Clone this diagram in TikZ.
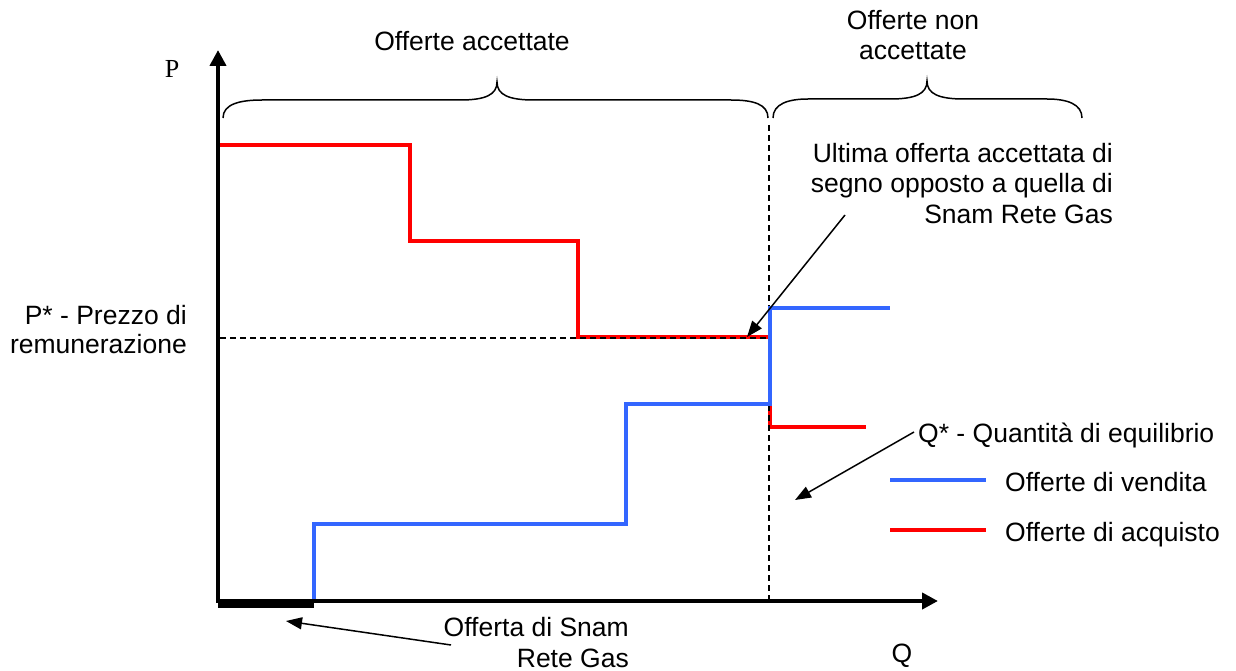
\documentclass[tikz,border=0pt]{standalone}
\usepackage{fontspec}
\setmainfont{Liberation Sans}
\newfontfamily\serifP{Liberation Serif}
\usetikzlibrary{arrows.meta}
\definecolor{sellblue}{RGB}{51,102,255}
\definecolor{buyred}{RGB}{255,0,0}
\begin{document}
\begin{tikzpicture}[x=1pt,y=-1pt,
  lbl/.style={inner sep=0pt, font=\fontsize{26.5}{30.5}\selectfont},
  axisline/.style={line width=4.5pt, line join=miter, {Triangle[length=16pt,width=16pt]}-{Triangle[length=16pt,width=16pt]}},
  sell/.style={sellblue, line width=4pt},
  buy/.style={buyred, line width=3.5pt},
  guide/.style={line width=1.5pt, dash pattern=on 6pt off 4pt},
  callout/.style={line width=1.5pt, -{Triangle[length=16pt,width=12pt]}},
  bracecurve/.style={line width=1.5pt}]
\useasboundingbox (0,0) rectangle (1236,671);

% curves
\draw[buy] (218,145) -- (410,145) -- (410,241) -- (578,241) -- (578,337) -- (770,337) -- (770,427) -- (866,427);
\draw[guide] (220,338) -- (768,338);
\draw[guide] (769,125) -- (769,601);
\draw[sell] (314,601) -- (314,524) -- (626,524) -- (626,404) -- (770,404) -- (770,308) -- (890,308);

% axes
\coordinate (Ytip) at (218,50);
\coordinate (O) at (218,601);
\coordinate (Xtip) at (938,601);
\draw[axisline] (Ytip) -- (O) -- (Xtip);
\draw[line width=8pt] (218,604) -- (314,604);

% braces
\draw[bracecurve] (223,118) .. controls (223,104) and (240,100) .. (262,100) -- (460,100)
  .. controls (485,100) and (497,95) .. (497,82)
  .. controls (497,95) and (509,100) .. (534,100) -- (731,100)
  .. controls (753,100) and (768,104) .. (768,118);
\draw[bracecurve] (773,118) .. controls (773,104) and (788,99) .. (808,99) -- (890,99)
  .. controls (915,99) and (927,94) .. (927,81)
  .. controls (927,94) and (939,99) .. (964,99) -- (1047,99)
  .. controls (1067,99) and (1082,104) .. (1082,118);

% legend
\draw[sell] (890,480) -- (986,480);
\draw[buy] (890,530) -- (986,530);

% labels (base anchor of a multi-line node = baseline of its last line)
\node[inner sep=0pt, anchor=base, font=\serifP\fontsize{26}{30}\selectfont] (tP) at (172,78) {P};
\node[lbl, anchor=base] (tQ) at (902,662) {Q};
\node[lbl, anchor=base] (tAcc) at (472,51) {Offerte accettate};
\node[lbl, anchor=base, align=center] (tNon) at (913,60) {Offerte non\\accettate};
\node[lbl, anchor=base east, align=right] (tUlt) at (1113,223) {Ultima offerta accettata di\\segno opposto a quella di\\Snam Rete Gas};
\node[lbl, anchor=base east, align=right] (tPstar) at (187,353) {P* - Prezzo di\\[-2pt]remunerazione};
\node[lbl, anchor=base west] (tQstar) at (918,442) {Q* - Quantità di equilibrio};
\node[lbl, anchor=base west] (tVend) at (1005,491) {Offerte di vendita};
\node[lbl, anchor=base west] (tAcq) at (1005,541) {Offerte di acquisto};
\node[lbl, anchor=base east, align=right] (tSnam) at (629,667) {Offerta di Snam\\Rete Gas};

% callouts
\coordinate (uTail) at (845,215);
\coordinate (uTip) at (747,337);
\coordinate (qTail) at (914,432);
\coordinate (qTip) at (795,500);
\coordinate (sTail) at (451,645);
\coordinate (sTip) at (286,621);
\draw[callout] (uTail) -- (uTip);
\draw[callout] (qTail) -- (qTip);
\draw[callout] (sTail) -- (sTip);
\end{tikzpicture}
\end{document}
